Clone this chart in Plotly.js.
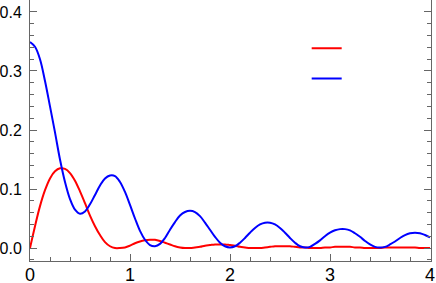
<!DOCTYPE html>
<html>
<head>
<meta charset="utf-8">
<script src="https://cdn.plot.ly/plotly-3.0.1.min.js"></script>
<style>html,body{margin:0;padding:0;background:#fff;}#chart{width:436px;height:283px;}</style>
</head>
<body>
<div id="chart"></div>
<script>
var xValues = [0.00,0.05,0.10,0.15,0.20,0.25,0.30,0.35,0.40,0.45,0.50,0.55,0.60,0.65,0.70,0.75,0.80,0.85,0.90,0.95,
  1.00,1.05,1.10,1.15,1.20,1.25,1.30,1.35,1.40,1.45,1.50,1.55,1.60,1.65,1.70,1.75,1.80,1.85,1.90,1.95,
  2.00,2.05,2.10,2.15,2.20,2.25,2.30,2.35,2.40,2.45,2.50,2.55,2.60,2.65,2.70,2.75,2.80,2.85,2.90,2.95,
  3.00,3.05,3.10,3.15,3.20,3.25,3.30,3.35,3.40,3.45,3.50,3.55,3.60,3.65,3.70,3.75,3.80,3.85,3.90,3.95,4.00];

var redValues = [0.000,0.037,0.071,0.098,0.118,0.130,0.135,0.134,0.127,0.114,0.096,0.076,0.055,0.037,0.022,0.010,0.003,0.000,0.000,0.001,
  0.004,0.008,0.011,0.013,0.014,0.014,0.012,0.009,0.006,0.003,0.001,0.000,0.000,0.001,0.002,0.004,0.005,0.006,0.006,0.006,
  0.005,0.004,0.002,0.001,0.000,0.000,0.000,0.001,0.002,0.003,0.003,0.003,0.003,0.002,0.001,0.001,0.000,0.000,0.000,0.001,
  0.001,0.002,0.002,0.002,0.002,0.001,0.001,0.000,0.000,0.000,0.000,0.001,0.001,0.001,0.001,0.001,0.001,0.001,0.000,0.000,0.000];

var blueValues = [0.349,0.341,0.320,0.283,0.240,0.196,0.150,0.112,0.083,0.065,0.058,0.062,0.074,0.090,0.106,0.118,0.123,0.122,0.112,0.095,
  0.073,0.050,0.029,0.014,0.005,0.003,0.007,0.017,0.031,0.044,0.055,0.061,0.063,0.061,0.054,0.043,0.031,0.019,0.009,0.003,
  0.001,0.003,0.009,0.017,0.026,0.034,0.040,0.043,0.043,0.040,0.034,0.026,0.017,0.009,0.003,0.001,0.002,0.007,0.013,0.020,
  0.026,0.030,0.032,0.032,0.030,0.025,0.019,0.012,0.006,0.002,0.001,0.002,0.006,0.011,0.017,0.022,0.025,0.026,0.025,0.022,0.018];

var xTickVals = [0,1,2,3,4];
var xTickText = ['0','1','2','3','4'];
var yTickVals = [0.0,0.1,0.2,0.3,0.4];
var yTickText = ['0.0','0.1','0.2','0.3','0.4'];

var traces = [
  {x: xValues, y: redValues, type: 'scatter', mode: 'lines', name: ' ', legendgroup: 'a',
   line: {color: '#ff0000', width: 2, shape: 'spline', smoothing: 1}},
  {x: xValues, y: blueValues, type: 'scatter', mode: 'lines', name: ' ', legendgroup: 'b',
   line: {color: '#0000ff', width: 2, shape: 'spline', smoothing: 1}}
];

var yFont = {family: 'Liberation Sans, Arial, sans-serif', size: 16, color: '#000'};
var xFont = {family: 'Liberation Sans, Arial, sans-serif', size: 18, color: '#000'};

var layout = {
  width: 436, height: 283,
  margin: {l: 30, r: 5, t: 0, b: 22, pad: 0},
  paper_bgcolor: '#fff', plot_bgcolor: '#fff',
  showlegend: true,
  legend: {x: 0.69, y: 0.875, xanchor: 'left', yanchor: 'top', bgcolor: 'rgba(0,0,0,0)',
           font: {size: 14}, traceorder: 'grouped', tracegroupgap: 9, itemwidth: 30},
  xaxis: {range: [0, 4.01], showgrid: false, zeroline: false, showline: true, linecolor: '#666', linewidth: 1,
          mirror: false, ticks: 'inside', ticklen: 7, tickcolor: '#666', tickwidth: 1,
          tickvals: xTickVals, ticktext: xTickText, tickfont: xFont, ticklabelstandoff: -3,
          minor: {dtick: 0.2, tick0: 0, ticks: 'inside', ticklen: 4, tickcolor: '#666', showgrid: false}},
  yaxis: {range: [-0.022, 0.4203], showgrid: false, zeroline: false, showline: true, linecolor: '#666', linewidth: 1,
          mirror: 'ticks', ticks: 'inside', ticklen: 7, tickcolor: '#666', tickwidth: 1,
          tickvals: yTickVals, ticktext: yTickText, tickfont: yFont, ticklabelstandoff: 4,
          minor: {dtick: 0.02, tick0: 0, ticks: 'inside', ticklen: 4, tickcolor: '#666', showgrid: false}}
};

Plotly.newPlot('chart', traces, layout, {displayModeBar: false, staticPlot: true});
</script>
</body>
</html>
